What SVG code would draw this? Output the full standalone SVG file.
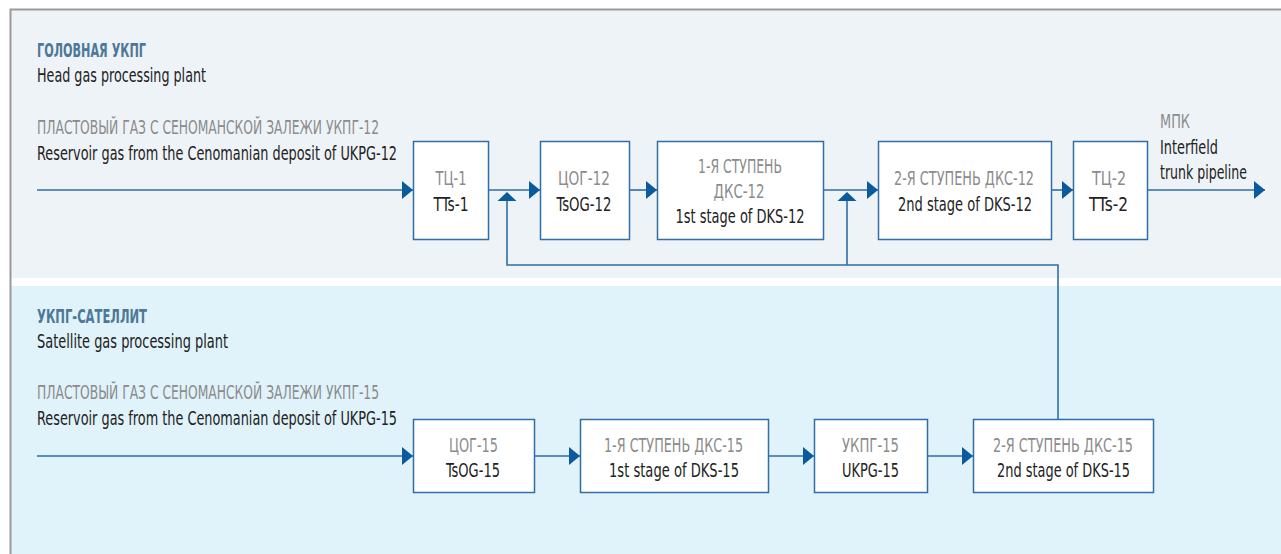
<svg xmlns="http://www.w3.org/2000/svg" width="1281" height="554" viewBox="0 0 1281 554">
<defs>
<style>
text{font-family:"Liberation Sans Narrow","DejaVu Sans Condensed","Liberation Sans",sans-serif;font-size:19.5px;}
.hd{fill:#4d7897;font-weight:bold;}
.gr{fill:#8b8b8b;}
.bk{fill:#222222;}
.mid{text-anchor:middle;}
.box{fill:#ffffff;stroke:#2f6ea6;stroke-width:1.5;}
.ln{fill:none;stroke:#2f6ea6;stroke-width:1.6;}
.ah{fill:#0b5b9c;}
</style>
<marker id="arr" viewBox="0 0 11 18" refX="11" refY="9" markerWidth="11" markerHeight="18" markerUnits="userSpaceOnUse" orient="auto">
<path d="M0,0 L11,9 L0,18 Z" fill="#0b5b9c"/>
</marker>
</defs>
<rect x="0" y="0" width="1281" height="554" fill="#ffffff"/>
<rect x="10" y="9" width="1271" height="269" fill="#eef3f7"/>
<rect x="10" y="286" width="1271" height="268" fill="#e0f2fa"/>
<path d="M10.5,554 V9.5 H1281" fill="none" stroke="#9a9a9a" stroke-width="2"/>

<g id="labels">
<text class="hd" x="37" y="57" textLength="109" lengthAdjust="spacingAndGlyphs">ГОЛОВНАЯ УКПГ</text>
<text class="bk" x="37" y="82" textLength="169" lengthAdjust="spacingAndGlyphs">Head gas processing plant</text>
<text class="gr" x="37" y="134" textLength="342" lengthAdjust="spacingAndGlyphs">ПЛАСТОВЫЙ ГАЗ С СЕНОМАНСКОЙ ЗАЛЕЖИ УКПГ-12</text>
<text class="bk" x="37" y="160" textLength="360" lengthAdjust="spacingAndGlyphs">Reservoir gas from the Cenomanian deposit of UKPG-12</text>
<text class="gr" x="1160" y="128" textLength="30" lengthAdjust="spacingAndGlyphs">МПК</text>
<text class="bk" x="1160" y="154" textLength="58" lengthAdjust="spacingAndGlyphs">Interfield</text>
<text class="bk" x="1160" y="179" textLength="87" lengthAdjust="spacingAndGlyphs">trunk pipeline</text>
<text class="hd" x="37" y="323" textLength="110" lengthAdjust="spacingAndGlyphs">УКПГ-САТЕЛЛИТ</text>
<text class="bk" x="37" y="348" textLength="191" lengthAdjust="spacingAndGlyphs">Satellite gas processing plant</text>
<text class="gr" x="37" y="399" textLength="342" lengthAdjust="spacingAndGlyphs">ПЛАСТОВЫЙ ГАЗ С СЕНОМАНСКОЙ ЗАЛЕЖИ УКПГ-15</text>
<text class="bk" x="37" y="425" textLength="360" lengthAdjust="spacingAndGlyphs">Reservoir gas from the Cenomanian deposit of UKPG-15</text>
</g>

<g id="connectors">
<path class="ln" d="M37,190 H413" marker-end="url(#arr)"/>
<path class="ln" d="M488,190 H540" marker-end="url(#arr)"/>
<path class="ln" d="M629,190 H657" marker-end="url(#arr)"/>
<path class="ln" d="M823,190 H878" marker-end="url(#arr)"/>
<path class="ln" d="M1051,190 H1073" marker-end="url(#arr)"/>
<path class="ln" d="M1147,190 H1265" marker-end="url(#arr)"/>
<path class="ln" d="M1058,419 V265 H507 V198"/>
<path class="ln" d="M847,265 V198"/>
<path class="ah" d="M497.5,201 L507,192 L516.5,201 Z"/>
<path class="ah" d="M837.5,201 L847,192 L856.5,201 Z"/>
<path class="ln" d="M37,456 H413" marker-end="url(#arr)"/>
<path class="ln" d="M534,456 H580" marker-end="url(#arr)"/>
<path class="ln" d="M768,456 H814" marker-end="url(#arr)"/>
<path class="ln" d="M927,456 H973" marker-end="url(#arr)"/>
</g>

<g id="node-ts1">
<rect class="box" x="413.5" y="141.5" width="75" height="98"/>
<text class="gr mid" x="451" y="185" textLength="31" lengthAdjust="spacingAndGlyphs">ТЦ-1</text>
<text class="bk mid" x="451" y="211" textLength="35" lengthAdjust="spacingAndGlyphs">TTs-1</text>
</g>
<g id="node-tsog12">
<rect class="box" x="540.5" y="141.5" width="89" height="98"/>
<text class="gr mid" x="584" y="185" textLength="52" lengthAdjust="spacingAndGlyphs">ЦОГ-12</text>
<text class="bk mid" x="584" y="211" textLength="55" lengthAdjust="spacingAndGlyphs">TsOG-12</text>
</g>
<g id="node-dks12-1">
<rect class="box" x="657.5" y="141.5" width="166" height="98"/>
<text class="gr mid" x="740" y="173" textLength="84" lengthAdjust="spacingAndGlyphs">1-Я СТУПЕНЬ</text>
<text class="gr mid" x="739" y="198" textLength="51" lengthAdjust="spacingAndGlyphs">ДКС-12</text>
<text class="bk mid" x="740" y="223" textLength="129" lengthAdjust="spacingAndGlyphs">1st stage of DKS-12</text>
</g>
<g id="node-dks12-2">
<rect class="box" x="878.5" y="141.5" width="173" height="98"/>
<text class="gr mid" x="964" y="185" textLength="140" lengthAdjust="spacingAndGlyphs">2-Я СТУПЕНЬ ДКС-12</text>
<text class="bk mid" x="965" y="211" textLength="134" lengthAdjust="spacingAndGlyphs">2nd stage of DKS-12</text>
</g>
<g id="node-ts2">
<rect class="box" x="1073.5" y="141.5" width="74" height="98"/>
<text class="gr mid" x="1109" y="185" textLength="34" lengthAdjust="spacingAndGlyphs">ТЦ-2</text>
<text class="bk mid" x="1108.5" y="211" textLength="39" lengthAdjust="spacingAndGlyphs">TTs-2</text>
</g>

<g id="node-tsog15">
<rect class="box" x="413.5" y="419.5" width="121" height="73"/>
<text class="gr mid" x="473.5" y="452" textLength="49" lengthAdjust="spacingAndGlyphs">ЦОГ-15</text>
<text class="bk mid" x="473" y="477" textLength="54" lengthAdjust="spacingAndGlyphs">TsOG-15</text>
</g>
<g id="node-dks15-1">
<rect class="box" x="580.5" y="419.5" width="188" height="73"/>
<text class="gr mid" x="673.5" y="452" textLength="139" lengthAdjust="spacingAndGlyphs">1-Я СТУПЕНЬ ДКС-15</text>
<text class="bk mid" x="674" y="477" textLength="130" lengthAdjust="spacingAndGlyphs">1st stage of DKS-15</text>
</g>
<g id="node-ukpg15">
<rect class="box" x="814.5" y="419.5" width="113" height="73"/>
<text class="gr mid" x="870.5" y="452" textLength="57" lengthAdjust="spacingAndGlyphs">УКПГ-15</text>
<text class="bk mid" x="870.5" y="477" textLength="57" lengthAdjust="spacingAndGlyphs">UKPG-15</text>
</g>
<g id="node-dks15-2">
<rect class="box" x="973.5" y="419.5" width="180" height="73"/>
<text class="gr mid" x="1063" y="452" textLength="140" lengthAdjust="spacingAndGlyphs">2-Я СТУПЕНЬ ДКС-15</text>
<text class="bk mid" x="1063.5" y="477" textLength="133" lengthAdjust="spacingAndGlyphs">2nd stage of DKS-15</text>
</g>
</svg>
